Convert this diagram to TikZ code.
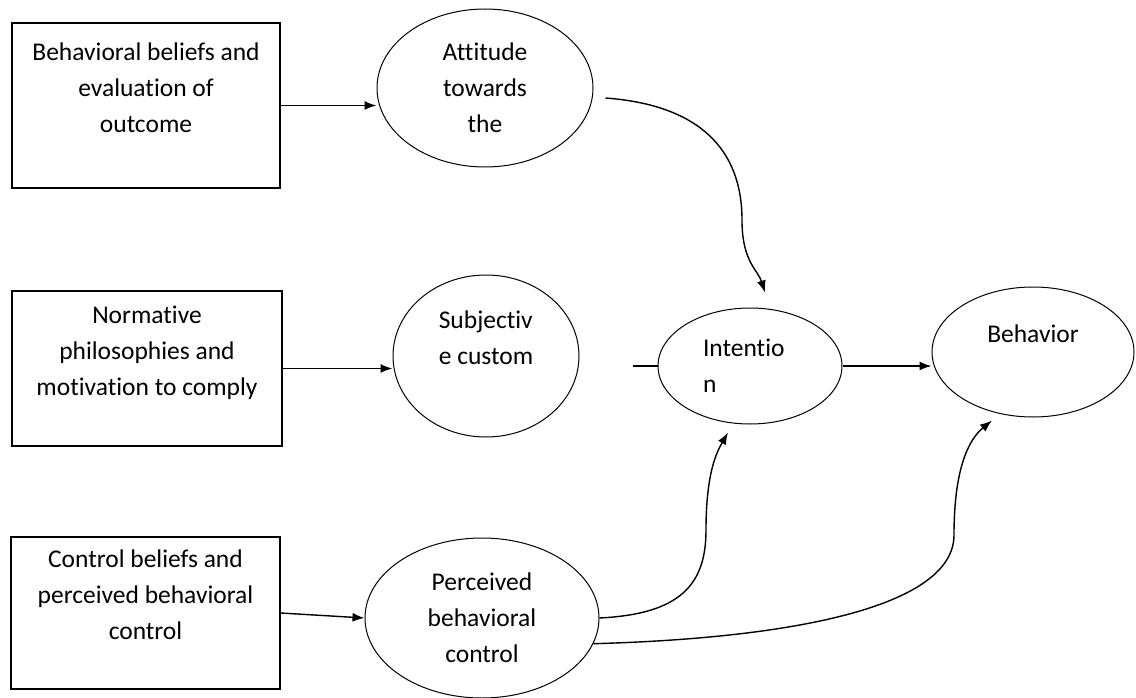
\documentclass[tikz,border=0pt]{standalone}
\usepackage{fontspec}
\setmainfont{Carlito}[Ligatures=NoCommon]
\usetikzlibrary{shapes.geometric}
\usetikzlibrary{arrows.meta}

\begin{document}
\begin{tikzpicture}[x=1pt, y=-1pt,
  every node/.style={font=\fontsize{25.5}{36}\selectfont, inner sep=0pt},
  box/.style={draw, line width=1.2pt, minimum width=268, minimum height=165, align=center},
  oval/.style={draw, ellipse, line width=1pt, align=center},
  arr/.style={-{Latex[length=12pt,width=9pt]}, line width=1.4pt}]
\useasboundingbox (0,0) rectangle (1136,698);

% belief boxes
\node [box] (b1) at (146,105.5) {Behavioral beliefs and\\evaluation of\\outcome\\\mbox{}};
\node [box, minimum width=270, minimum height=155] (b2) at (147,368.5) {Normative\\philosophies and\\motivation to comply\\\mbox{}};
\node [box, minimum width=269, minimum height=152] (b3) at (145.5,613) {Control beliefs and\\perceived behavioral\\control\\\mbox{}};

% constructs
\node [oval, minimum width=216, minimum height=158] (att) at (485,88) {Attitude\\towards\\the};
\node [oval, minimum width=186, minimum height=162, align=left] (subj) at (486,356) {Subjectiv\\e custom\\\mbox{}};
\node [oval, minimum width=184, minimum height=116, text width=94, align=left] (int) at (750,366) {Intentio\\n};
\node [oval, minimum width=202, minimum height=130] (beh) at (1033,352) {Behavior\\\mbox{}};
\node [oval, minimum width=234, minimum height=160] (perc) at (482,618) {Perceived\\behavioral\\control};
\coordinate (stub) at (633,366);

\draw [arr] (b1.east) -- (b1.east -| att.west);
\draw [arr] (b2.east) -- (b2.east -| subj.west);
\draw [arr] (b3.east) -- (perc.west);
\draw [arr] (int.east) -- (int.east -| beh.west);
\draw [line width=1.4pt] (stub) -- (int.west);

\draw [arr] ([shift={(12,10)}]att.east) .. controls (700,105) and (742,150) .. (742,220)
  .. controls (742,262) and (758,270) .. ([shift={(15,-15)}]int.north);
\draw [arr] (perc.east) .. controls (680,614) and (706,585) .. (706,530)
  .. controls (706,470) and (718,450) .. ([shift={(-22,8)}]int.south);
\draw [arr] (perc.-13) .. controls (800,638) and (954,605) .. (954,535)
  .. controls (954,470) and (968,440) .. ([shift={(-41,3)}]beh.south);
\end{tikzpicture}
\end{document}
